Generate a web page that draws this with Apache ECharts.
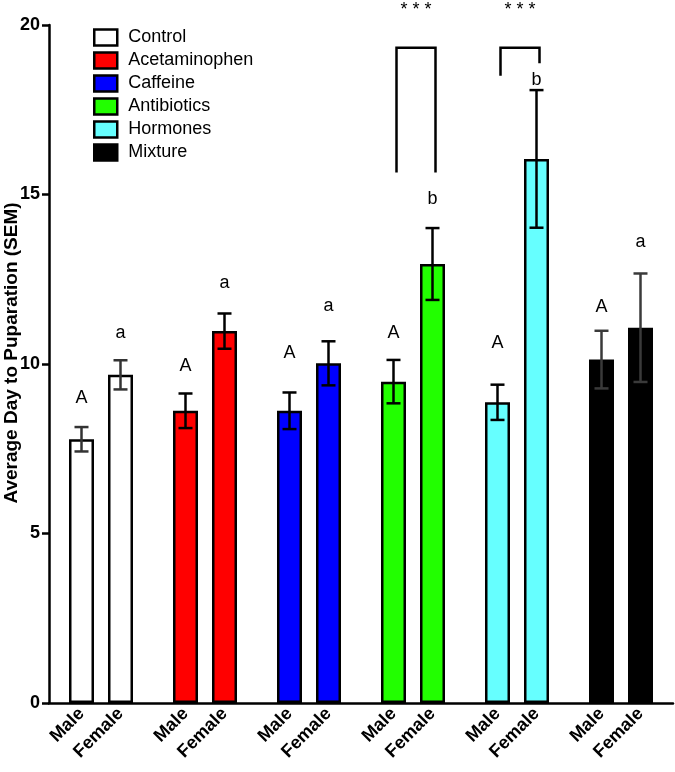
<!DOCTYPE html>
<html>
<head>
<meta charset="utf-8">
<script src="https://cdn.jsdelivr.net/npm/echarts@6/dist/echarts.min.js"></script>
<style>
html,body{margin:0;padding:0;background:#fff;}
#chart{width:675px;height:772px;}
</style>
</head>
<body>
<div id="chart"></div>
<script>
// ---- data ----
const groups = ['Control', 'Acetaminophen', 'Caffeine', 'Antibiotics', 'Hormones', 'Mixture'];
const sexes = ['Male', 'Female'];
const maleMean = [7.78, 8.62, 8.62, 9.48, 8.87, 10.13];
const femaleMean = [9.68, 10.97, 10.02, 12.95, 16.05, 11.07];
const maleSEM = [0.36, 0.51, 0.54, 0.64, 0.52, 0.85];
const femaleSEM = [0.43, 0.52, 0.65, 1.06, 2.03, 1.60];
const maleLetters = ['A', 'A', 'A', 'A', 'A', 'A'];
const femaleLetters = ['a', 'a', 'a', 'b', 'b', 'a'];
const maleLetterY = [9.0, 9.94, 10.33, 10.91, 10.62, 11.68];
const femaleLetterY = [10.91, 12.38, 11.71, 14.87, 18.38, 13.61];
// significance brackets: group index, top, left leg end, right leg end, label, label level
const bracketGroup = [3, 4];
const bracketTop = [19.33, 19.33];
const bracketLeftEnd = [15.65, 18.5];
const bracketRightEnd = [15.65, 18.87];
const bracketLabel = ['* * *', '* * *'];
const bracketLabelY = [20.45, 20.45];
const yTicks = [0, 5, 10, 15, 20];

// ---- styles ----
const groupColors = ['#ffffff', '#ff0000', '#0000ff', '#22ff00', '#66ffff', '#000000'];
const errColors = ['#333333', '#000000', '#000000', '#000000', '#000000', '#3a3a3a'];
const FONT = '"Liberation Sans", Arial, Helvetica, sans-serif';

// ---- category layout: 2 pad slots, then per group M at +0, F at +3, group step 8 ----
const PAD = 2, STEP = 8, FOFF = 3;
const nCats = PAD * 2 + STEP * (groups.length - 1) + FOFF + 1;
const cats = [];
const catLabel = {};
for (let i = 0; i < nCats; i++) cats.push('c' + i);
groups.forEach((g, gi) => {
  catLabel[PAD + STEP * gi] = sexes[0];
  catLabel[PAD + STEP * gi + FOFF] = sexes[1];
});
const mIdx = gi => PAD + STEP * gi;
const fIdx = gi => PAD + STEP * gi + FOFF;

const barSeries = groups.map((g, gi) => {
  const data = new Array(nCats).fill('-');
  data[mIdx(gi)] = maleMean[gi];
  data[fIdx(gi)] = femaleMean[gi];
  return {
    name: g,
    type: 'bar',
    data: data,
    barWidth: 25,
    barGap: '-100%',
    itemStyle: { color: groupColors[gi], borderColor: '#000', borderWidth: 2.5 },
    emphasis: { disabled: true },
    animation: false,
    z: 2
  };
});

const errData = [];
groups.forEach((g, gi) => {
  errData.push([mIdx(gi), maleMean[gi] - maleSEM[gi], maleMean[gi] + maleSEM[gi], gi]);
  errData.push([fIdx(gi), femaleMean[gi] - femaleSEM[gi], femaleMean[gi] + femaleSEM[gi], gi]);
});

const letterData = [];
groups.forEach((g, gi) => {
  letterData.push([mIdx(gi), maleLetterY[gi], maleLetters[gi]]);
  letterData.push([fIdx(gi), femaleLetterY[gi], femaleLetters[gi]]);
});

const bracketData = bracketGroup.map((gi, k) => [mIdx(gi), fIdx(gi), bracketTop[k], bracketLeftEnd[k], bracketRightEnd[k], bracketLabelY[k], k]);

const option = {
  backgroundColor: '#fff',
  animation: false,
  grid: { left: 49, top: 25, width: 624, height: 678, containLabel: false, outerBoundsMode: 'none' },
  legend: {
    data: groups,
    orient: 'vertical',
    left: 93,
    top: 28,
    padding: 0,
    icon: 'rect',
    itemWidth: 23,
    itemHeight: 16,
    itemGap: 4,
    selectedMode: false,
    itemStyle: { borderColor: '#000', borderWidth: 2.5 },
    textStyle: { fontFamily: FONT, fontSize: 18, lineHeight: 19, color: '#000', padding: [0, 0, 0, 6] }
  },
  xAxis: {
    type: 'category',
    data: cats,
    axisLine: { lineStyle: { color: '#000', width: 2.5 } },
    axisTick: {
      alignWithLabel: true,
      interval: (idx) => catLabel[idx] !== undefined,
      length: 7,
      lineStyle: { color: '#000', width: 2.5 }
    },
    axisLabel: {
      interval: 0,
      rotate: 45,
      margin: 8,
      formatter: (v, idx) => catLabel[idx] || '',
      fontFamily: FONT, fontSize: 18, fontWeight: 'bold', color: '#000'
    },
    splitLine: { show: false }
  },
  yAxis: {
    type: 'value',
    min: 0, max: 20, interval: 5,
    name: 'Average Day to Puparation (SEM)',
    nameLocation: 'middle',
    nameRotate: 90,
    nameGap: 28,
    nameMoveOverlap: false,
    nameTextStyle: { fontFamily: FONT, fontSize: 19, fontWeight: 'bold', color: '#000', padding: [0, 0, 0, 22] },
    axisLine: { show: true, lineStyle: { color: '#000', width: 2.5 } },
    axisTick: { show: true, length: 7, lineStyle: { color: '#000', width: 2.5 } },
    axisLabel: {
      margin: 9,
      fontFamily: FONT, fontSize: 18, fontWeight: 'bold', color: '#000',
      formatter: v => (yTicks.indexOf(v) >= 0 ? String(v) : '')
    },
    splitLine: { show: false }
  },
  series: barSeries.concat([
    {
      type: 'custom',
      name: 'err',
      data: errData,
      z: 5,
      silent: true,
      renderItem: (params, api) => {
        const x = api.value(0);
        const lo = api.coord([x, api.value(1)]);
        const hi = api.coord([x, api.value(2)]);
        const col = errColors[api.value(3)];
        const hw = 7;
        const st = { stroke: col, lineWidth: 2.5 };
        return {
          type: 'group',
          children: [
            { type: 'line', shape: { x1: lo[0], y1: lo[1], x2: hi[0], y2: hi[1] }, style: st },
            { type: 'line', shape: { x1: lo[0] - hw, y1: lo[1], x2: lo[0] + hw, y2: lo[1] }, style: st },
            { type: 'line', shape: { x1: hi[0] - hw, y1: hi[1], x2: hi[0] + hw, y2: hi[1] }, style: st }
          ]
        };
      }
    },
    {
      type: 'custom',
      name: 'letters',
      data: letterData,
      z: 6,
      silent: true,
      renderItem: (params, api) => {
        const p = api.coord([api.value(0), api.value(1)]);
        return {
          type: 'text',
          x: p[0], y: p[1],
          style: {
            text: letterData[params.dataIndex][2],
            fontFamily: FONT, fontSize: 18, fill: '#000',
            align: 'center', verticalAlign: 'middle'
          }
        };
      }
    },
    {
      type: 'custom',
      name: 'brackets',
      data: bracketData,
      z: 6,
      silent: true,
      renderItem: (params, api) => {
        const off = 3;
        const l = api.coord([api.value(0), api.value(2)]);
        const r = api.coord([api.value(1), api.value(2)]);
        const lb = api.coord([api.value(0), api.value(3)]);
        const rb = api.coord([api.value(1), api.value(4)]);
        const ly = api.coord([api.value(0), api.value(5)]);
        const k = api.value(6);
        const st = { stroke: '#000', lineWidth: 2.5, fill: null };
        return {
          type: 'group',
          children: [
            { type: 'polyline', shape: { points: [[lb[0] + off, lb[1]], [l[0] + off, l[1]], [r[0] + off, r[1]], [rb[0] + off, rb[1]]] }, style: st },
            { type: 'text', x: (l[0] + r[0]) / 2 + off, y: ly[1],
              style: { text: bracketLabel[k], fontFamily: FONT, fontSize: 18, fill: '#000', align: 'center', verticalAlign: 'middle' } }
          ]
        };
      }
    }
  ])
};

const chart = echarts.init(document.getElementById('chart'), null, { renderer: 'canvas' });
chart.setOption(option);
</script>
</body>
</html>
